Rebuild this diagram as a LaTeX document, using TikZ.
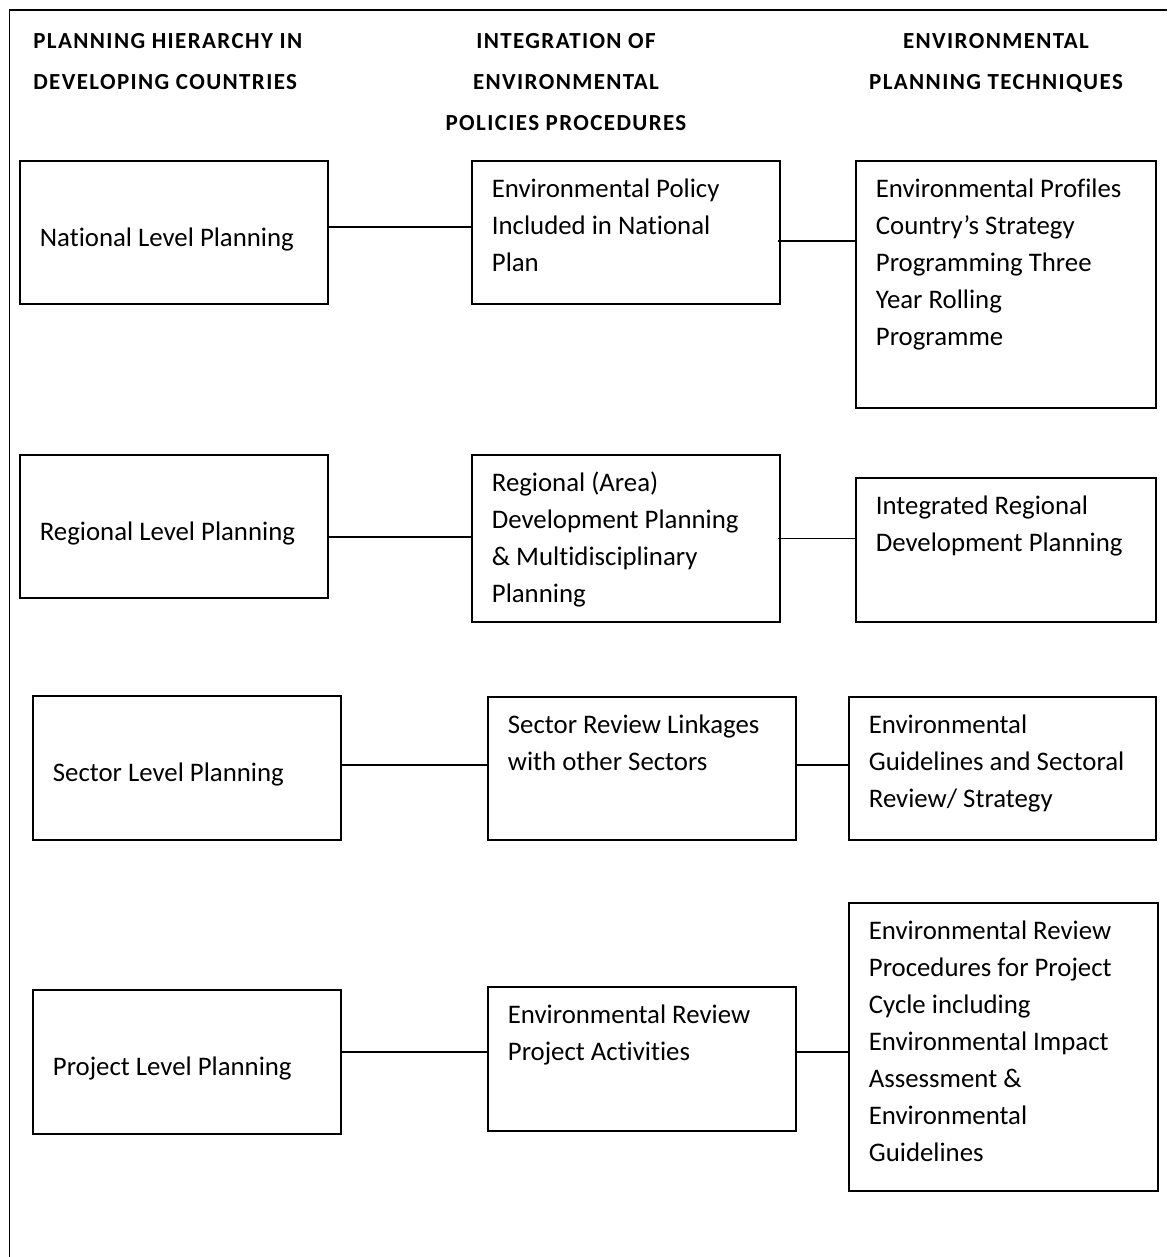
\documentclass[tikz,border=0pt]{standalone}
\usepackage{fontspec}
\setmainfont{Carlito}[Ligatures=NoCommon]
\newfontfamily\headfont{Carlito}[LetterSpace=6]
\usepackage{tikz}

% box text: [top space]{width}{height}{lines}
\newcommand{\cell}[4][5.3pt]{\parbox[c][#3][t]{#2}{\raggedright\vspace*{#1}\strut #4}}

\begin{document}
\begin{tikzpicture}[x=0.5pt, y=-0.5pt,
    main/.style = {draw, line width=0.9pt, anchor=north west, inner xsep=10pt, inner ysep=0pt,
                   font=\fontsize{13.4}{18.5}\selectfont},
    head/.style = {inner sep=0pt, font=\headfont\bfseries\fontsize{11.5}{20.5}\selectfont}]
	\useasboundingbox (0,0) rectangle (1167,1257);
	\draw[line width=0.9pt] (1167,10) -- (9.5,10) -- (9.5,1257);
	% column headings
	\node[head, anchor=north west, align=left] (h1) at (33,33.5) {PLANNING HIERARCHY IN\\DEVELOPING COUNTRIES};
	\node[head, anchor=north, align=center] (h2) at (566,33.5) {INTEGRATION OF\\ENVIRONMENTAL\\POLICIES PROCEDURES};
	\node[head, anchor=north, align=center] (h3) at (996,33.5) {ENVIRONMENTAL\\PLANNING TECHNIQUES};
	% national
	\node[main] (nat) at (19,160) {\cell[29.8pt]{134pt}{71.5pt}{National Level Planning}};
	\node[main] (natpol) at (471,160) {\cell{134pt}{71.5pt}{Environmental Policy\\Included in National\\Plan}};
	\node[main] (nattech) at (855,160) {\cell{130pt}{123.5pt}{Environmental Profiles\\Country’s Strategy\\Programming Three\\Year Rolling\\Programme}};
	% regional
	\node[main] (reg) at (19,454) {\cell[29.8pt]{134pt}{71.5pt}{Regional Level Planning}};
	\node[main] (regpol) at (471,454) {\cell{134pt}{83.5pt}{Regional (Area)\\Development Planning\\\& Multidisciplinary\\Planning}};
	\node[main] (regtech) at (855,477) {\cell{130pt}{72pt}{Integrated Regional\\Development Planning}};
	% sector
	\node[main] (sec) at (32,695) {\cell[29.8pt]{134pt}{72pt}{Sector Level Planning}};
	\node[main] (secpol) at (487,696) {\cell{134pt}{71.5pt}{Sector Review Linkages\\with other Sectors}};
	\node[main] (sectech) at (848,696) {\cell{133.5pt}{71.5pt}{Environmental\\Guidelines and Sectoral\\Review/ Strategy}};
	% project
	\node[main] (pro) at (32,989) {\cell[29.8pt]{134pt}{72pt}{Project Level Planning}};
	\node[main] (propol) at (487,986) {\cell{134pt}{72pt}{Environmental Review\\Project Activities}};
	\node[main] (protech) at (848,902) {\cell{134.5pt}{144pt}{Environmental Review\\Procedures for Project\\Cycle including\\Environmental Impact\\Assessment \&\\Environmental\\Guidelines}};
	% links
	\coordinate (r1) at ([yshift=2.75pt]nat.east);
	\coordinate (t1) at ([yshift=-4.25pt]natpol.east);
	\coordinate (r2) at ([yshift=-5.25pt]reg.east);
	\coordinate (r3) at ([yshift=1.5pt]sec.east);
	\coordinate (r4) at ([yshift=5pt]pro.east);
	\draw[line width=0.7pt] (r1) -- (r1 -| natpol.west);
	\draw[line width=0.7pt] ([xshift=-1.5pt]t1) -- (t1 -| nattech.west);
	\draw[line width=0.7pt] (r2) -- (r2 -| regpol.west);
	\draw[line width=0.7pt] ([xshift=-1.5pt]regpol.east) -- (regpol.east -| regtech.west);
	\draw[line width=0.7pt] (r3) -- (r3 -| secpol.west);
	\draw[line width=0.7pt] (secpol.east |- r3) -- (r3 -| sectech.west);
	\draw[line width=0.7pt] (r4) -- (r4 -| propol.west);
	\draw[line width=0.7pt] (propol.east |- r4) -- (r4 -| protech.west);
\end{tikzpicture}
\end{document}
